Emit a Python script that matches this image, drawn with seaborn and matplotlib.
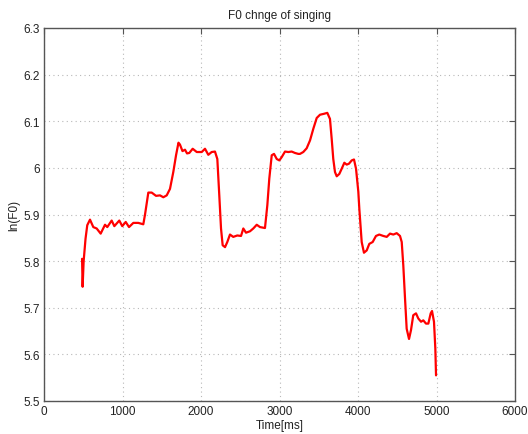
import matplotlib
matplotlib.use("Agg")
import matplotlib.pyplot as plt
import seaborn as sns
import pandas as pd
from matplotlib.ticker import FormatStrFormatter, FuncFormatter

time_ms = [485, 492, 505, 529, 551, 586, 628, 671, 722, 777, 806, 862, 896, 959, 997,
           1041, 1083, 1138, 1201, 1265, 1287, 1329, 1372, 1427, 1478, 1520, 1563, 1605,
           1647, 1682, 1713, 1732, 1764, 1796, 1822, 1851, 1894, 1946, 2009, 2051, 2093,
           2136, 2178, 2208, 2233, 2255, 2276, 2306, 2335, 2369, 2411, 2462, 2510, 2539,
           2573, 2624, 2666, 2710, 2752, 2815, 2845, 2870, 2901, 2930, 2965, 2998, 3028,
           3070, 3112, 3155, 3197, 3239, 3261, 3303, 3346, 3389, 3431, 3474, 3516, 3567,
           3609, 3643, 3665, 3685, 3707, 3729, 3762, 3792, 3826, 3856, 3885, 3920, 3949,
           3975, 4004, 4017, 4047, 4076, 4111, 4144, 4187, 4229, 4271, 4322, 4366, 4408,
           4450, 4493, 4535, 4557, 4577, 4599, 4620, 4650, 4675, 4704, 4739, 4768, 4803,
           4832, 4866, 4896, 4926, 4943, 4968, 4985, 4994]
ln_f0 = [5.805, 5.745, 5.800, 5.848, 5.877, 5.889, 5.873, 5.870, 5.859, 5.878, 5.873,
         5.887, 5.875, 5.887, 5.875, 5.884, 5.873, 5.882, 5.882, 5.879, 5.900, 5.947,
         5.947, 5.940, 5.941, 5.937, 5.941, 5.955, 5.991, 6.027, 6.054, 6.050, 6.036,
         6.039, 6.031, 6.032, 6.041, 6.034, 6.034, 6.041, 6.028, 6.034, 6.035, 6.019,
         5.941, 5.870, 5.834, 5.830, 5.841, 5.857, 5.852, 5.855, 5.854, 5.870, 5.861,
         5.864, 5.870, 5.878, 5.873, 5.871, 5.920, 5.977, 6.027, 6.030, 6.019, 6.016,
         6.023, 6.035, 6.034, 6.035, 6.032, 6.030, 6.030, 6.034, 6.042, 6.059, 6.084,
         6.107, 6.114, 6.116, 6.118, 6.105, 6.062, 6.019, 5.991, 5.982, 5.987, 5.998,
         6.011, 6.007, 6.009, 6.016, 6.018, 5.998, 5.949, 5.912, 5.841, 5.818, 5.823,
         5.837, 5.841, 5.854, 5.857, 5.854, 5.852, 5.859, 5.857, 5.860, 5.854, 5.841,
         5.791, 5.720, 5.655, 5.633, 5.652, 5.684, 5.688, 5.677, 5.670, 5.673, 5.666,
         5.666, 5.688, 5.693, 5.670, 5.613, 5.555]

x_ticks = [0, 1000, 2000, 3000, 4000, 5000, 6000]
y_ticks = [5.5, 5.6, 5.7, 5.8, 5.9, 6.0, 6.1, 6.2, 6.3]

df = pd.DataFrame({"t": time_ms, "f0": ln_f0})

sns.set_style("white")
plt.rcParams["font.family"] = ["Liberation Sans", "DejaVu Sans"]

fig = plt.figure(figsize=(5.28, 4.35), dpi=100)
ax = fig.add_axes([44/528, 33/435, 471/528, 373/435])

sns.lineplot(data=df, x="t", y="f0", ax=ax, color="#ff0000", linewidth=1.6,
             estimator=None, sort=False)

ax.set_xlim(0, 6000)
ax.set_ylim(5.5, 6.3)
ax.set_xticks(x_ticks)
ax.set_yticks(y_ticks)
ax.yaxis.set_major_formatter(FuncFormatter(lambda v, p: f"{v:g}"))
ax.grid(True, color="#b8b8b8", linestyle=(0, (1, 3)), linewidth=0.8)
for s in ax.spines.values():
    s.set_color("#555555")
    s.set_linewidth(1.0)
ax.tick_params(direction="in", length=4, width=0.8, colors="#555555",
               labelcolor="#222222", labelsize=8.5, top=True, right=True, pad=3)
ax.set_xlabel("Time[ms]", fontsize=8.5, color="#222222", labelpad=1)
ax.set_ylabel("ln(F0)", fontsize=8.5, color="#222222", labelpad=2)
ax.set_title("F0 chnge of singing", fontsize=8.5, color="#222222", pad=7)

fig.savefig("out.png", dpi=100)
